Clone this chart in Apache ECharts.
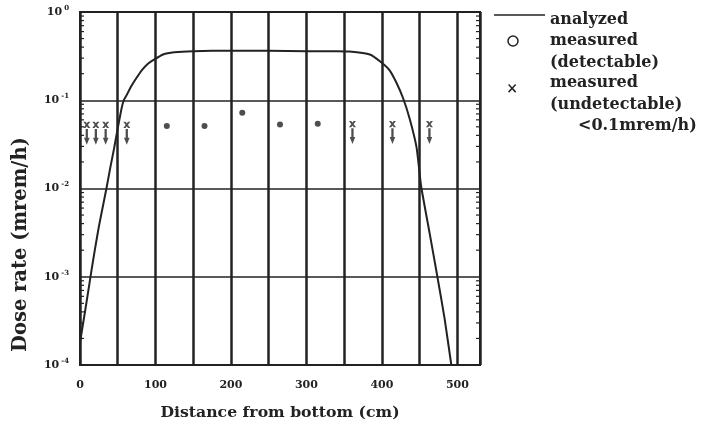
<!DOCTYPE html>
<html><head><meta charset="utf-8">
<script src="https://cdn.jsdelivr.net/npm/echarts@6/dist/echarts.min.js"></script>
<style>html,body{margin:0;padding:0;background:#fff}#c{width:707px;height:429px}</style>
</head><body><div id="c"></div>
<script>
// Analyzed dose-rate profile (distance cm, dose rate mrem/h)
const analyzedX = [0, 5, 10, 15, 20, 25, 30, 35, 40, 45, 50, 55, 58, 62, 68, 75, 82, 90, 97, 110, 125, 150, 200, 250, 300, 340, 357, 384, 399, 410, 419, 428, 437, 446, 452, 463, 474, 483, 492];
const analyzedY = [1.8e-4, 3.3e-4, 6.1e-4, 1.15e-3, 2.1e-3, 3.7e-3, 6.1e-3, 1.0e-2, 1.7e-2, 2.8e-2, 4.8e-2, 8.0e-2, 0.1, 0.115, 0.145, 0.18, 0.22, 0.26, 0.285, 0.33, 0.35, 0.36, 0.365, 0.365, 0.36, 0.36, 0.357, 0.33, 0.27, 0.22, 0.16, 0.106, 0.061, 0.029, 0.0106, 0.0032, 0.00095, 3.4e-4, 1.0e-4];
// Measured (detectable)
const detectX = [115, 165, 215, 265, 315];
const detectY = [0.051, 0.051, 0.072, 0.053, 0.054];
// Measured (undetectable, upper limit)
const undetectX = [9, 21, 34, 62, 361, 414, 463];
const undetectY = [0.052, 0.052, 0.052, 0.052, 0.053, 0.053, 0.053];
// Axis ticks
const xTickLabels = ['0', '100', '200', '300', '400', '500'];
const yExponents = ['-4', '-3', '-2', '-1', '0'];
const minorTickVals = [2e-4,3e-4,4e-4,5e-4,6e-4,7e-4,8e-4,9e-4,
  2e-3,3e-3,4e-3,5e-3,6e-3,7e-3,8e-3,9e-3,
  2e-2,3e-2,4e-2,5e-2,6e-2,7e-2,8e-2,9e-2,
  2e-1,3e-1,4e-1,5e-1,6e-1,7e-1,8e-1,9e-1];

const X_MAX = 530;
const FONT = 'DejaVu Serif';
const INK = '#222';

const chart = echarts.init(document.getElementById('c'), null, {renderer: 'canvas'});

const arrowSymbol = 'path://M0,0 L2.6,0 L8,7 L5.4,7 Z M5.4,0 L8,0 L2.6,7 L0,7 Z M2.7,8 L5.3,8 L5.3,19 L2.7,19 Z M0.8,18 L7.2,18 L4,26 Z';

const legendText = (x, y, t) => ({type: 'text', x: x, y: y,
  style: {text: t, fontFamily: FONT, fontWeight: 'bold', fontSize: 16, fill: INK, textVerticalAlign: 'middle'}});

const option = {
  backgroundColor: '#fff',
  animation: false,
  grid: {left: 80, right: 227, top: 12, bottom: 64, show: true, borderColor: INK, borderWidth: 2, backgroundColor: 'transparent'},
  xAxis: {
    type: 'value', min: 0, max: X_MAX, interval: 50,
    axisLine: {show: false}, axisTick: {show: false},
    splitLine: {show: true, lineStyle: {color: INK, width: 2.5}},
    axisLabel: {
      margin: 15, fontFamily: FONT, fontWeight: 'bold', fontSize: 11, color: INK,
      formatter: v => { const s = String(Math.round(v)); return xTickLabels.indexOf(s) >= 0 ? s : ''; }
    },
    name: 'Distance from bottom (cm)', nameLocation: 'middle', nameGap: 40,
    nameTextStyle: {fontFamily: FONT, fontWeight: 'bold', fontSize: 15.7, color: INK}
  },
  yAxis: {
    type: 'log', logBase: 10, min: 1e-4, max: 1,
    axisLine: {show: false}, axisTick: {show: false},
    splitLine: {show: true, lineStyle: {color: INK, width: 1.5}},
    axisLabel: {
      margin: 11, color: INK,
      formatter: v => {
        const e = Math.round(Math.log10(v));
        const idx = e + 4;
        return '{a|10}{b|' + (yExponents[idx] !== undefined ? yExponents[idx] : e) + '}';
      },
      rich: {
        a: {fontFamily: FONT, fontWeight: 'bold', fontSize: 11, color: INK},
        b: {fontFamily: FONT, fontWeight: 'bold', fontSize: 7, color: INK, padding: [0, 0, 8, 2]}
      }
    }
  },
  graphic: [
    {type: 'text', x: 11, y: 352, rotation: Math.PI / 2,
      style: {text: 'Dose rate (mrem/h)', fontFamily: FONT, fontWeight: 'bold', fontSize: 19.5, fill: INK}},
    {type: 'line', shape: {x1: 494, y1: 15, x2: 545, y2: 15}, style: {stroke: INK, lineWidth: 1.5}},
    legendText(550, 20, 'analyzed'),
    {type: 'circle', shape: {cx: 513, cy: 41, r: 5}, style: {fill: 'none', stroke: INK, lineWidth: 1.5}},
    legendText(550, 41, 'measured'),
    legendText(550, 63, '(detectable)'),
    {type: 'text', x: 512, y: 89, style: {text: '×', fontFamily: FONT, fontWeight: 'bold', fontSize: 14, fill: INK, textAlign: 'center', textVerticalAlign: 'middle'}},
    legendText(550, 83, 'measured'),
    legendText(550, 105, '(undetectable)'),
    legendText(578, 126, '<0.1mrem/h)')
  ],
  series: [
    {
      type: 'custom', name: 'minor ticks', silent: true, z: 3,
      data: minorTickVals.map(v => [0, v]),
      renderItem: (params, api) => {
        const v = api.value(1);
        const pl = api.coord([0, v]);
        const pr = api.coord([X_MAX, v]);
        return {type: 'group', children: [
          {type: 'line', shape: {x1: pl[0], y1: pl[1], x2: pl[0] + 4, y2: pl[1]}, style: {stroke: INK, lineWidth: 1.2}},
          {type: 'line', shape: {x1: pr[0] - 4, y1: pr[1], x2: pr[0], y2: pr[1]}, style: {stroke: INK, lineWidth: 1.2}}
        ]};
      }
    },
    {
      type: 'line', name: 'analyzed', data: analyzedX.map((x, i) => [x, analyzedY[i]]),
      showSymbol: false, smooth: 0.15, lineStyle: {color: INK, width: 2}, z: 4
    },
    {
      type: 'scatter', name: 'measured (detectable)', data: detectX.map((x, i) => [x, detectY[i]]),
      symbol: 'circle', symbolSize: 6, itemStyle: {color: '#222'}, z: 5
    },
    {
      type: 'scatter', name: 'measured (undetectable)', data: undetectX.map((x, i) => [x, undetectY[i]]),
      symbol: arrowSymbol, symbolSize: [7, 23], symbolOffset: [0, 8], symbolKeepAspect: false,
      itemStyle: {color: '#222'}, z: 5
    }
  ]
};
chart.setOption(option);
</script></body></html>
